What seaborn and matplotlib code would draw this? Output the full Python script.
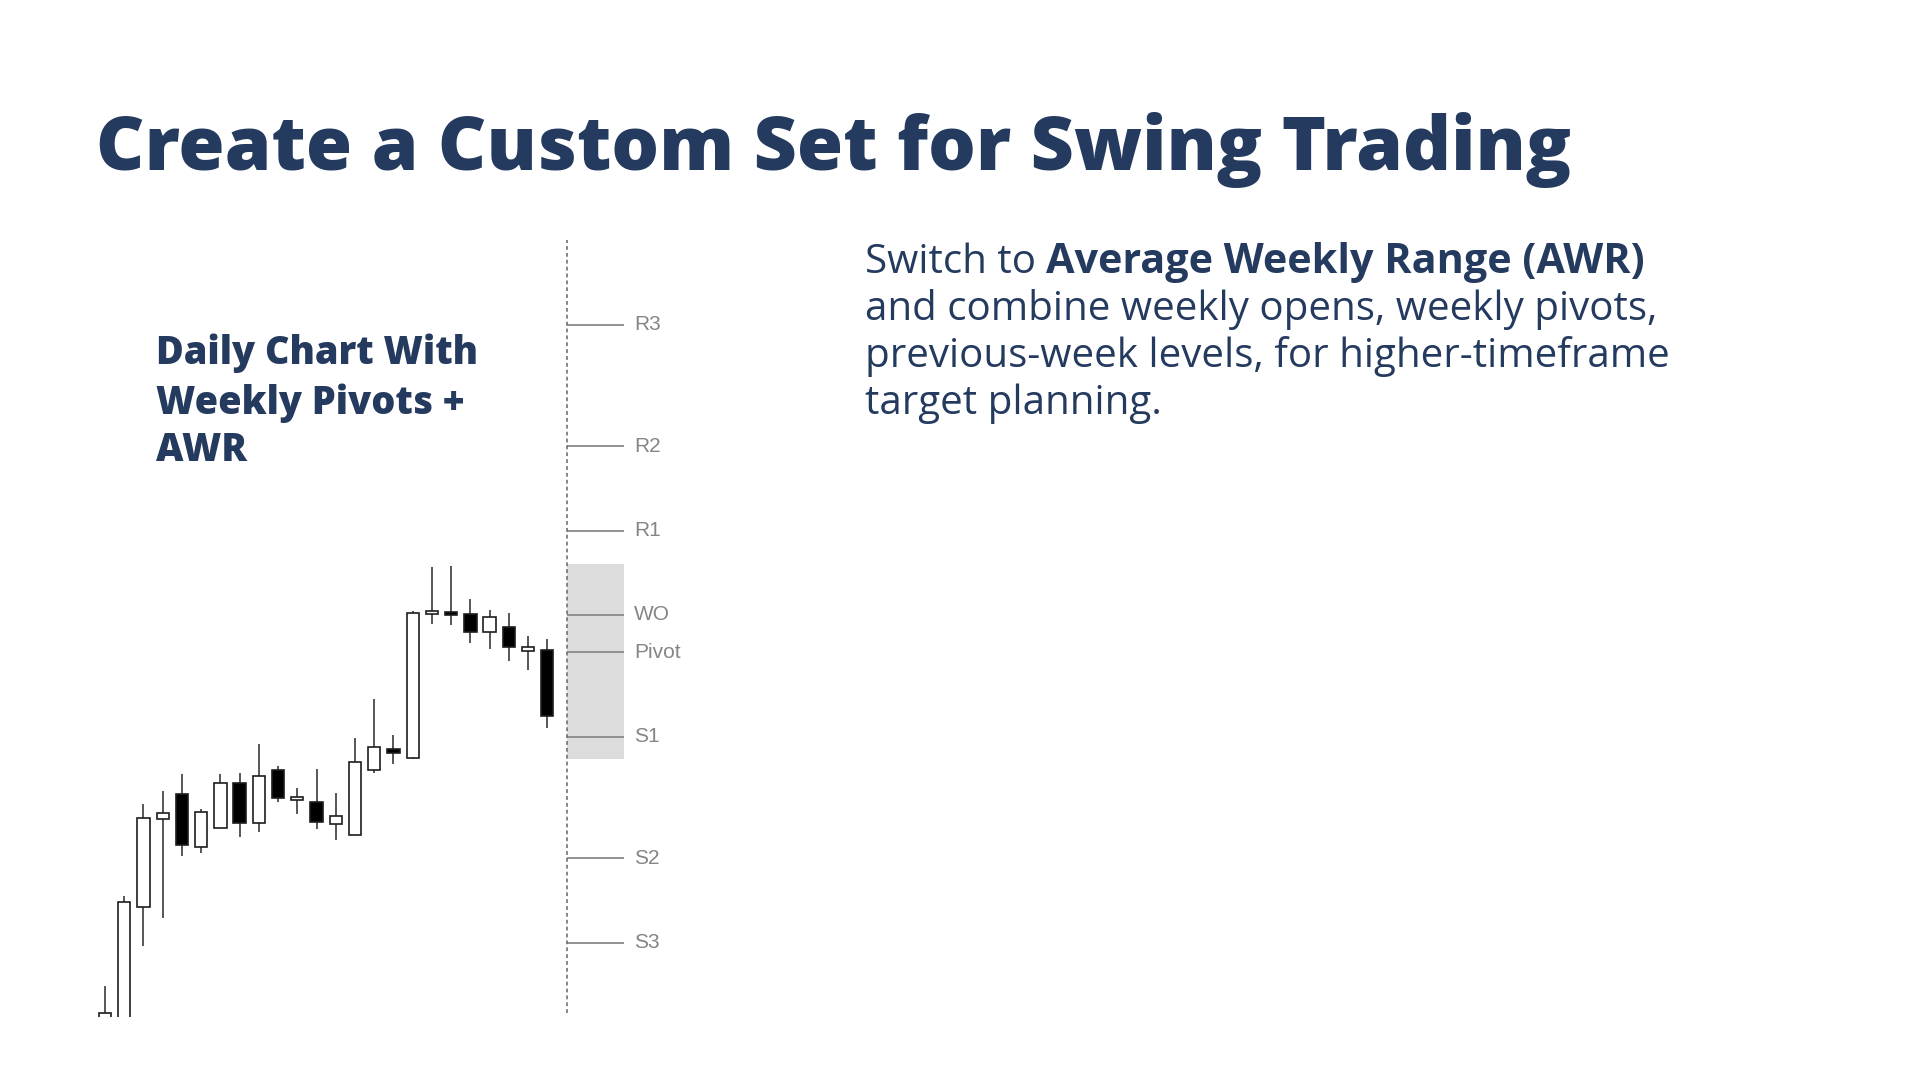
import matplotlib
matplotlib.use("Agg")
import matplotlib.pyplot as plt
import seaborn as sns
import numpy as np

# Datos de velas diarias
opens = [1.0, 1.5, 13.3, 22.1, 24.6, 19.3, 21.2, 25.7, 21.7, 27.0, 24.0, 23.8,
         21.6, 20.5, 27.0, 29.1, 28.2, 42.6, 42.8, 42.6, 40.8, 41.3, 38.9, 39.0]
highs = [5.4, 14.4, 23.6, 24.9, 26.6, 23.1, 26.6, 26.7, 29.6, 27.4, 25.2, 27.1,
         24.7, 30.2, 34.1, 30.5, 42.9, 47.3, 47.4, 44.1, 43.0, 42.7, 40.4, 40.1]
lows = [0.5, 0.5, 9.4, 12.2, 18.4, 18.7, 21.2, 20.3, 20.8, 23.8, 22.6, 21.1,
        20.0, 20.5, 26.7, 27.6, 28.1, 41.6, 41.5, 39.7, 39.1, 37.9, 37.0, 31.2]
closes = [2.7, 13.8, 22.2, 22.7, 19.5, 22.8, 25.7, 21.7, 26.4, 24.2, 24.3, 21.8,
          22.4, 27.8, 29.3, 28.7, 42.7, 42.9, 42.5, 40.8, 42.3, 39.3, 39.3, 32.4]

# Niveles pivote semanales
level_names = ["R3", "R2", "R1", "WO", "Pivot", "S1", "S2", "S3"]
level_values = [71.5, 59.4, 50.9, 42.5, 38.8, 30.3, 18.2, 9.7]

# Rango semanal promedio (AWR)
awr_top = 47.6
awr_bottom = 28.1

# Textos
title = "Create a Custom Set for Swing Trading"
subtitle_lines = ["Daily Chart With", "Weekly Pivots +", "AWR"]
body_regular_first = "Switch to"
body_bold_first = "Average Weekly Range (AWR)"
body_lines = ["and combine weekly opens, weekly pivots,",
              "previous-week levels, for higher-timeframe",
              "target planning."]

NAVY = "#243a5e"
W, H = 1920, 1080

sns.set_theme(style="white")
plt.rcParams["font.family"] = ["Open Sans", "DejaVu Sans"]

fig = plt.figure(figsize=(W / 100, H / 100), dpi=100)
fig.patch.set_facecolor("white")
renderer = fig.canvas.get_renderer()


def px(x, y):
    # Convierte pixeles (desde arriba a la izquierda) a fracción de figura
    return x / W, 1 - y / H


def fit_text(x, y, s, target_w, weight="normal", size0=30, color=NAVY):
    # Dibuja un texto y ajusta el tamaño para que ocupe el ancho deseado
    t = fig.text(*px(x, y), s, fontsize=size0, fontweight=weight, color=color,
                 ha="left", va="baseline")
    w = t.get_window_extent(renderer).width
    t.set_fontsize(size0 * target_w / w)
    return t


# Título principal
fit_text(96, 170, title, 1476, weight=800, size0=50)

# Subtítulo del gráfico
sub = fit_text(156, 364, subtitle_lines[0], 322, weight=800, size0=20)
sub_size = sub.get_fontsize()
for line, base in zip(subtitle_lines[1:], [414, 461]):
    fig.text(*px(156, base), line, fontsize=sub_size, fontweight=800,
             color=NAVY, ha="left", va="baseline")

# Texto descriptivo
ref = fit_text(865, 320, body_lines[0], 793, size0=25)
body_size = ref.get_fontsize()
for line, base in zip(body_lines[1:], [367, 414]):
    fig.text(*px(865, base), line, fontsize=body_size, color=NAVY,
             ha="left", va="baseline")
first = fig.text(*px(865, 273), body_regular_first, fontsize=body_size,
                 color=NAVY, ha="left", va="baseline")
bold_x = 865 + first.get_window_extent(renderer).width + body_size * 0.36
fit_text(bold_x, 273, body_bold_first, 1645 - bold_x, weight="bold", size0=25)

# Eje del gráfico de velas
ax = fig.add_axes([90 / W, 1 - 1017 / H, 610 / W, (1017 - 238) / H])
ax.set_xlim(-0.78, 30.94)
ax.set_ylim(2.3, 80.2)
ax.axis("off")

x = np.arange(len(opens))
o = np.array(opens)
c = np.array(closes)
fills = ["white" if cc >= oo else "black" for oo, cc in zip(o, c)]

# Mechas y cuerpos
ax.vlines(x, lows, highs, color="#3a3a3a", linewidth=1.2, zorder=1)
ax.bar(x, np.abs(c - o), bottom=np.minimum(o, c), width=0.64, color=fills,
       edgecolor="#1e1e1e", linewidth=1.2, zorder=2)

# Zona AWR y niveles
ref_x = len(opens)
ax.fill_between([ref_x, ref_x + 3], awr_bottom, awr_top, color="#dcdcdc",
                linewidth=0, zorder=0)
ax.hlines(level_values, ref_x, ref_x + 3, color="#8a8a8a", linewidth=1.3, zorder=3)
for name, val in zip(level_names, level_values):
    ax.text(ref_x + 3.5, val, name, fontsize=15, color="#858585",
            family=["Liberation Sans", "DejaVu Sans"], ha="left", va="center")

# Línea vertical punteada
ax.vlines(ref_x, 2.7, 80.0, color="#666666", linewidth=1.1,
          linestyles=(0, (2.5, 2)), zorder=4)

fig.savefig("out.png", dpi=100)
